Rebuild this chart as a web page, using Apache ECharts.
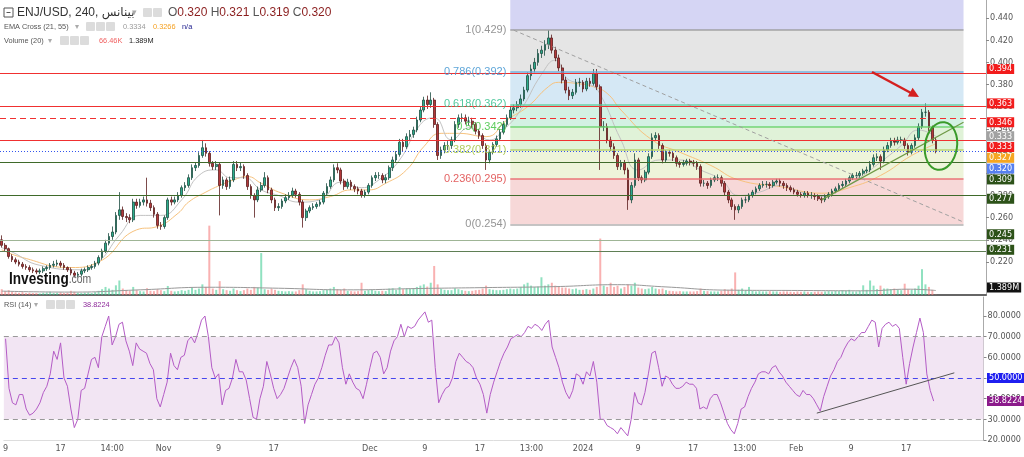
<!DOCTYPE html>
<html><head><meta charset="utf-8">
<script src="https://cdn.jsdelivr.net/npm/echarts@6/dist/echarts.min.js"></script>
<style>html,body{margin:0;padding:0;background:#fff}#c{width:1024px;height:457px}</style>
</head><body><div id="c"></div><script>
// ---------------- data (12h candles, ENJ/USD) ----------------
const firstOpen = 0.240;
const closes = [
.235,.232,.225,.222,.220,.218,.216,.215,.213,.212,
.211,.212,.214,.215,.217,.218,.219,.217,.215,.213,
.210,.208,.209,.212,.213,.215,.216,.219,.224,.230,
.237,.243,.247,.262,.267,.261,.260,.258,.274,.271,
.274,.276,.273,.269,.263,.253,.252,.260,.276,.274,
.276,.280,.287,.289,.296,.305,.307,.316,.323,.318,
.309,.306,.308,.289,.294,.288,.294,.308,.305,.306,
.298,.288,.280,.276,.285,.289,.296,.285,.276,.269,
.270,.275,.278,.280,.284,.281,.274,.260,.266,.269,
.270,.272,.274,.282,.288,.294,.305,.303,.293,.288,
.292,.288,.286,.284,.280,.283,.289,.296,.298,.298,
.294,.296,.305,.312,.317,.328,.324,.333,.335,.339,
.348,.357,.366,.362,.366,.344,.316,.321,.325,.325,
.330,.344,.350,.350,.347,.347,.344,.338,.334,.325,
.312,.319,.326,.331,.337,.344,.350,.357,.359,.362,
.367,.375,.388,.394,.400,.408,.411,.416,.422,.411,
.404,.395,.384,.375,.370,.373,.382,.382,.376,.383,
.381,.390,.378,.342,.342,.330,.324,.316,.306,.309,
.303,.276,.289,.312,.296,.294,.301,.315,.332,.334,
.325,.312,.319,.318,.314,.309,.308,.309,.311,.310,
.309,.306,.291,.291,.289,.294,.296,.296,.291,.283,
.276,.270,.267,.270,.276,.276,.280,.283,.286,.289,
.290,.290,.289,.292,.293,.291,.289,.287,.285,.283,
.281,.280,.282,.280,.280,.279,.277,.276,.279,.281,
.284,.286,.289,.290,.293,.296,.298,.298,.300,.302,
.303,.308,.314,.315,.311,.321,.325,.329,.328,.330,
.330,.325,.319,.325,.332,.342,.355,.355,.341,.330,
.320];
const lows = [
.233,.230,.223,.220,.218,.216,.214,.213,.211,.210,
.209,.209,.210,.212,.213,.215,.216,.215,.213,.211,
.208,.206,.206,.207,.210,.211,.213,.214,.217,.222,
.228,.235,.240,.245,.258,.258,.256,.255,.256,.268,
.269,.271,.270,.266,.260,.250,.249,.250,.258,.271,
.272,.274,.278,.284,.287,.294,.302,.305,.314,.315,
.306,.303,.303,.262,.286,.285,.286,.292,.302,.302,
.295,.285,.277,.260,.274,.283,.287,.282,.273,.266,
.266,.268,.273,.276,.278,.278,.271,.251,.257,.264,
.267,.268,.270,.272,.280,.286,.292,.300,.290,.285,
.286,.285,.283,.281,.278,.278,.281,.287,.293,.295,
.291,.291,.294,.302,.310,.315,.320,.322,.330,.332,
.337,.346,.355,.358,.359,.341,.312,.313,.318,.321,
.322,.328,.341,.346,.344,.343,.341,.335,.331,.322,
.303,.309,.317,.324,.329,.335,.342,.348,.354,.356,
.359,.365,.373,.384,.391,.397,.404,.406,.412,.408,
.401,.392,.381,.372,.366,.367,.371,.378,.373,.374,
.378,.379,.375,.303,.338,.327,.320,.313,.303,.303,
.299,.267,.273,.287,.293,.291,.292,.299,.313,.329,
.322,.309,.310,.315,.311,.306,.305,.306,.307,.307,
.306,.303,.288,.288,.286,.287,.292,.293,.288,.280,
.273,.267,.258,.264,.268,.273,.274,.278,.281,.284,
.287,.287,.286,.287,.290,.288,.286,.284,.283,.281,
.279,.278,.278,.278,.277,.276,.275,.273,.274,.277,
.279,.282,.284,.287,.288,.291,.294,.295,.296,.298,
.300,.301,.306,.311,.303,.309,.319,.323,.325,.326,
.327,.322,.316,.317,.323,.330,.340,.351,.338,.327,
.318];
const highs = [
.244,.237,.233,.227,.224,.222,.220,.218,.217,.215,
.214,.214,.216,.217,.219,.221,.222,.221,.219,.216,
.215,.212,.211,.214,.215,.217,.218,.221,.226,.232,
.240,.246,.252,.265,.283,.270,.264,.263,.277,.277,
.277,.279,.296,.276,.271,.265,.256,.262,.278,.279,
.279,.283,.289,.292,.299,.308,.310,.319,.330,.327,
.320,.311,.311,.310,.297,.296,.297,.311,.311,.310,
.308,.300,.290,.282,.288,.292,.301,.298,.287,.278,
.273,.277,.281,.283,.287,.286,.283,.276,.268,.271,
.273,.274,.276,.284,.291,.297,.308,.309,.305,.295,
.295,.294,.290,.288,.286,.285,.291,.298,.301,.301,
.300,.299,.307,.315,.320,.331,.331,.336,.339,.342,
.351,.360,.369,.370,.373,.368,.346,.324,.328,.329,
.333,.347,.353,.354,.353,.351,.350,.346,.340,.336,
.327,.321,.328,.334,.340,.347,.353,.360,.362,.365,
.371,.378,.391,.398,.404,.412,.415,.420,.429,.425,
.414,.407,.398,.387,.378,.376,.385,.386,.384,.386,
.386,.394,.394,.380,.347,.345,.333,.327,.318,.312,
.312,.305,.292,.318,.314,.298,.303,.318,.336,.337,
.336,.327,.321,.321,.320,.316,.311,.312,.313,.313,
.312,.311,.308,.294,.293,.296,.298,.299,.298,.293,
.285,.278,.272,.272,.278,.279,.282,.285,.288,.291,
.293,.293,.292,.294,.295,.295,.293,.291,.289,.287,
.285,.283,.284,.284,.283,.282,.281,.279,.281,.283,
.286,.288,.291,.293,.295,.298,.300,.301,.302,.304,
.306,.311,.317,.318,.317,.324,.328,.332,.332,.333,
.333,.332,.327,.327,.335,.345,.358,.363,.357,.343,
.332];
const volumes = [
1.8,1.2,1.5,1.0,0.8,0.7,0.9,0.6,0.7,0.6,
0.6,0.5,0.7,0.8,1.0,0.6,0.7,0.8,0.6,0.7,
1.3,1.0,0.7,0.6,0.7,0.8,0.6,0.9,1.3,1.8,
2.5,2.0,1.6,3.0,4.5,2.0,1.5,1.3,2.5,1.5,
1.2,1.1,2.1,1.3,1.2,1.8,1.5,1.2,2.8,1.3,
1.1,1.2,1.5,1.3,1.6,2.3,1.6,2.0,3.3,2.5,
21.5,2.0,1.6,4.3,1.8,1.5,1.3,2.0,1.5,1.2,
1.5,2.0,1.6,2.5,2.3,13.0,1.8,1.6,2.0,1.6,
1.3,1.2,1.1,1.2,1.1,1.1,1.5,3.3,1.8,1.3,
1.1,1.1,1.2,1.5,1.6,2.0,2.5,1.8,1.6,2.0,
1.3,1.2,1.1,1.2,3.8,1.3,1.5,1.6,1.3,1.2,
1.3,1.2,2.0,2.1,1.6,2.5,1.8,2.1,2.0,2.1,
2.5,2.9,3.3,2.6,3.8,9.0,3.3,2.0,1.6,1.5,
1.5,2.1,1.8,1.5,1.3,1.2,1.3,1.5,1.6,2.0,
2.9,1.8,1.6,1.5,1.5,1.6,1.8,2.0,1.8,2.0,
2.5,3.3,3.8,2.9,2.5,2.6,5.5,2.9,3.3,3.8,
2.9,2.5,2.3,2.3,2.0,1.8,2.0,1.6,1.6,1.8,
1.6,2.0,2.5,17.5,2.9,2.5,3.8,2.5,2.9,2.0,
2.5,3.3,2.9,3.8,2.3,2.0,1.8,2.0,2.5,2.0,
1.8,2.0,1.5,1.3,1.2,1.1,1.2,1.1,1.1,1.1,
1.1,1.2,2.0,1.3,1.2,1.1,1.1,1.1,1.3,1.8,
1.6,2.0,7.0,1.6,2.0,1.5,2.5,1.3,1.1,1.2,
1.1,1.1,1.2,1.1,1.1,1.0,1.1,1.1,1.0,0.9,
1.1,1.0,1.1,1.0,0.9,1.0,1.1,1.0,1.1,1.2,
1.1,1.3,1.2,1.5,1.3,1.6,1.1,1.1,1.3,3.0,
1.6,4.5,2.9,1.8,2.9,2.0,2.0,1.8,2.0,1.6,
1.5,3.5,1.8,1.6,2.0,2.9,8.0,3.3,2.5,1.6,
0.07];
const volMA = [[0,1.2],[20,0.9],[40,1.6],[60,2.4],[80,2.1],[100,1.6],[120,2.0],[140,2.3],[160,2.6],[178,3.2],[192,2.5],[210,1.5],[230,1.4],[250,1.3],[262,1.8],[270,1.389]];
const volMALast = 1.389;
const rsi = [
69,45,38,37,42,42,35,32,33,35,
38,43,46,52,63,59,67,50,46,35,
26,30,44,45,52,59,60,55,70,75,
80,66,70,76,77,68,63,56,67,64,
63,62,57,54,40,36,42,48,62,56,
54,60,61,68,70,67,72,78,80,70,
55,50,52,37,44,45,50,59,53,53,
49,40,31,30,40,46,58,52,45,40,
42,45,50,55,59,55,46,28,37,42,
47,50,55,61,66,66,70,67,55,47,
52,48,45,44,40,47,55,62,63,60,
52,55,63,68,70,76,70,75,74,75,
78,80,82,77,78,55,38,42,45,46,
50,58,62,60,58,57,55,50,47,42,
33,42,48,53,58,62,65,69,70,71,
70,72,75,74,76,75,73,76,78,65,
60,55,48,43,40,44,52,51,47,53,
51,58,48,30,30,27,26,25,23,26,
24,22,30,43,38,37,43,52,62,63,
55,46,51,50,47,45,45,46,48,47,
47,45,35,36,35,40,42,42,38,33,
28,25,23,28,35,36,41,45,48,52,
53,53,52,55,56,53,51,48,46,44,
42,41,44,42,42,40,37,34,41,46,
51,54,58,60,64,67,69,68,70,72,
72,75,78,77,65,74,76,77,75,76,
74,60,47,57,65,72,79,72,52,44,
38.8224];
const ema21 = [[0,0.233],[3,0.229],[11,0.217],[23,0.213],[28,0.220],[34,0.244],[40,0.262],[46,0.262],[52,0.276],[57,0.298],[62,0.303],[66,0.296],[70,0.296],[75,0.285],[80,0.280],[86,0.274],[92,0.276],[98,0.292],[104,0.287],[109,0.294],[115,0.312],[121,0.344],[125,0.350],[130,0.330],[135,0.341],[141,0.330],[145,0.339],[150,0.357],[156,0.389],[160,0.402],[164,0.384],[170,0.380],[173,0.371],[179,0.330],[184,0.303],[190,0.312],[196,0.312],[202,0.303],[208,0.294],[213,0.280],[219,0.283],[225,0.289],[231,0.283],[237,0.279],[242,0.285],[248,0.296],[254,0.310],[260,0.325],[265,0.339],[270,0.3334]];
const ema55 = [[0,0.231],[6,0.224],[20,0.215],[28,0.220],[39,0.249],[45,0.252],[51,0.264],[54,0.274],[59,0.283],[63,0.289],[67,0.294],[71,0.297],[75,0.291],[81,0.282],[89,0.276],[95,0.279],[101,0.285],[106,0.285],[111,0.291],[117,0.303],[122,0.324],[127,0.336],[132,0.336],[140,0.333],[146,0.348],[152,0.360],[158,0.378],[161,0.382],[166,0.381],[171,0.378],[175,0.372],[179,0.357],[188,0.330],[196,0.319],[205,0.307],[213,0.294],[225,0.288],[237,0.282],[245,0.287],[254,0.298],[263,0.316],[270,0.3266]];
const tickLabels = [[0,'9'],[16,'17'],[31,'14:00'],[46,'Nov'],[62,'9'],[78,'17'],[106,'Dec'],[122,'9'],[138,'17'],[153,'13:00'],[168,'2024'],[184,'9'],[200,'17'],[215,'13:00'],[230,'Feb'],[246,'9'],[262,'17']];
const totalSlots = 285;
const priceTicks = [0.22,0.24,0.26,0.28,0.30,0.32,0.34,0.36,0.38,0.40,0.42,0.44];
const rsiTicks = [20,30,40,50,60,70,80];
const levelValues = [0.394,0.363,0.346,0.333,0.309,0.277,0.245,0.231];
const fibHigh = 0.429, fibLow = 0.254;
const fibRange = [147, 278];
const fibRatios = [1,0.786,0.618,0.5,0.382,0.236,0];
const fibDiagonal = [[148,0.429],[278,0.256]];
const priceTrend = [[237,0.276],[278,0.346]];
const rsiTrend = [[236,33],[276,52.5]];
const rsiBands = [30,50,70];

// ---------------- styles / layout ----------------
const FONT = '"Liberation Sans Narrow","DejaVu Sans Condensed","Liberation Sans",Arial,sans-serif';
const LS = '"Liberation Sans",Arial,sans-serif';
const Y0MIN = 0.19023, Y0MAX = 0.45623;
const levelStyles = [
  {color:'#f03030',type:'solid'},{color:'#f03030',type:'solid'},{color:'#f03030',type:[6,4]},
  {color:'#f03030',type:'solid'},{color:'#3f6a2a',type:'solid'},{color:'#3f6a2a',type:'solid'},
  {color:'#9fb596',type:'solid'},{color:'#5f7f55',type:'solid'}];
const levelBoxColors = ['#f21c1c','#f21c1c','#f21c1c','#f21c1c','#2d5219','#2d5219','#2d5219','#2d5219'];
const fibZoneColors = ['#e5e5e5','#d5e8f5','#d3f1e3','#e0f2d8','#eef4da','#f7d8d8'];
const fibLineColors = ['#9a9a9a','#6aaad8','#5ccaa2','#66d066','#b4cf66','#e66a6a','#a8a8a8'];
const fibTextColors = ['#8a8a8a','#4b9bd4','#3fc393','#4ec84e','#a8c64a','#e05050','#8a8a8a'];

const chart = echarts.init(document.getElementById('c'));
const opens = closes.map((c,i)=> i===0 ? firstOpen : closes[i-1]);
const candleData = closes.map((c,i)=>[opens[i], c, lows[i], highs[i]]);
const cats = Array.from({length: totalSlots}, (_,i)=>String(i));
const tickMap = Object.fromEntries(tickLabels);
const fibPrice = r => fibLow + r*(fibHigh - fibLow);

const zones = [[{coord:[fibRange[0], fibHigh], itemStyle:{color:'#d5d5f4'}},{coord:[fibRange[1], Y0MAX]}]];
for (let i=0;i<fibRatios.length-1;i++){
  zones.push([{coord:[fibRange[0], fibPrice(fibRatios[i])], itemStyle:{color:fibZoneColors[i]}},{coord:[fibRange[1], fibPrice(fibRatios[i+1])]}]);
}
const fibLines = fibRatios.map((r,i)=>[
  {coord:[fibRange[0], fibPrice(r)], lineStyle:{color:fibLineColors[i], width:1.5, type:'solid', opacity:0.9},
   label:{show:true, position:'start', distance:4, formatter: r+'('+fibPrice(r).toFixed(3)+')', color:fibTextColors[i], fontSize:11, fontFamily:LS}},
  {coord:[fibRange[1], fibPrice(r)]}]);

const levelLines = levelValues.map((v,i)=>({yAxis:v, lineStyle:{color:levelStyles[i].color, type:levelStyles[i].type, width:1}}));
levelLines.push({yAxis: closes[closes.length-1], lineStyle:{color:'#3355ee', type:[1,2], width:1}});

const volData = volumes.map((v,i)=>({value:v, itemStyle:{color: closes[i]>=opens[i] ? 'rgba(70,205,150,0.6)' : 'rgba(245,125,125,0.6)'}}));

const option = {
  animation:false,
  backgroundColor:'#fff',
  grid:[
    {left:0,right:38,top:0,height:295},
    {left:0,right:38,top:220,height:75},
    {left:0,right:38,top:297,height:143}
  ],
  xAxis:[
    {type:'category',gridIndex:0,data:cats,boundaryGap:true,show:false},
    {type:'category',gridIndex:1,data:cats,boundaryGap:true,axisLine:{show:true,lineStyle:{color:'#666',width:2}},axisTick:{show:false},axisLabel:{show:false}},
    {type:'category',gridIndex:2,data:cats,boundaryGap:true,axisLine:{show:true,lineStyle:{color:'#ddd'}},axisTick:{show:false},
     axisLabel:{interval:(idx)=>tickMap[idx]!==undefined, formatter:(v,idx)=>tickMap[idx]||'', fontSize:9, color:'#555', margin:4, fontFamily:FONT}}
  ],
  yAxis:[
    {type:'value',gridIndex:0,position:'right',min:Y0MIN,max:Y0MAX,splitLine:{show:false},
     axisLine:{show:true,lineStyle:{color:'#aaa'}},
     axisTick:{show:true,length:3,lineStyle:{color:'#888'},customValues:priceTicks},
     axisLabel:{customValues:priceTicks,formatter:v=>v.toFixed(3),fontSize:9,color:'#555',margin:4,fontFamily:FONT}},
    {type:'value',gridIndex:1,min:0,max:23.25,show:false},
    {type:'value',gridIndex:2,position:'right',min:20,max:89.2,splitLine:{show:false},
     axisLine:{show:true,lineStyle:{color:'#aaa'}},
     axisTick:{show:true,length:3,lineStyle:{color:'#888'},customValues:rsiTicks},
     axisLabel:{customValues:rsiTicks,formatter:v=>v.toFixed(4),fontSize:9,color:'#555',margin:4,fontFamily:FONT}}
  ],
  series:[
    {type:'line',name:'fib',xAxisIndex:0,yAxisIndex:0,data:[],z:1,silent:true,
     markArea:{silent:true,data:zones},
     markLine:{silent:true,symbol:['none','none'],data:fibLines}},
    {type:'line',name:'levels',xAxisIndex:0,yAxisIndex:0,data:[],z:2,silent:true,
     markLine:{silent:true,symbol:['none','none'],label:{show:false},data:levelLines.concat([
       [{coord:fibDiagonal[0],lineStyle:{color:'#a0a0a0',type:[4,3],width:1}},{coord:fibDiagonal[1]}],
       [{coord:priceTrend[0],lineStyle:{color:'#6f9a46',type:'solid',width:1.2}},{coord:priceTrend[1]}]
     ])}},
    {type:'bar',name:'vol',xAxisIndex:1,yAxisIndex:1,data:volData,barWidth:2,z:1,silent:true},
    {type:'line',name:'volMA',xAxisIndex:1,yAxisIndex:1,data:volMA,smooth:true,symbol:'none',lineStyle:{color:'#999',width:1},z:2,silent:true},
    {type:'line',name:'ema55',xAxisIndex:0,yAxisIndex:0,data:ema55,smooth:true,symbol:'none',lineStyle:{color:'#f7c27d',width:1},z:2,silent:true},
    {type:'line',name:'ema21',xAxisIndex:0,yAxisIndex:0,data:ema21,smooth:true,symbol:'none',lineStyle:{color:'#c2c2c2',width:1},z:2,silent:true},
    {type:'candlestick',name:'ENJ',xAxisIndex:0,yAxisIndex:0,data:candleData,barWidth:'62%',z:3,silent:true,
     itemStyle:{color:'#2aae8c',color0:'#b3383a',borderColor:'#1d4d41',borderColor0:'#5a1d1d',borderWidth:0.8}},
    {type:'line',name:'rsiBand',xAxisIndex:2,yAxisIndex:2,data:[],z:1,silent:true,
     markArea:{silent:true,itemStyle:{color:'#f2e5f3'},data:[[{yAxis:rsiBands[0]},{yAxis:rsiBands[2]}]]},
     markLine:{silent:true,symbol:['none','none'],label:{show:false},data:[
       {yAxis:rsiBands[2],lineStyle:{color:'#999',type:[5,4],width:1}},
       {yAxis:rsiBands[0],lineStyle:{color:'#999',type:[5,4],width:1}},
       {yAxis:rsiBands[1],lineStyle:{color:'#4646ee',type:[5,4],width:1}},
       [{coord:rsiTrend[0],lineStyle:{color:'#555',type:'solid',width:1}},{coord:rsiTrend[1]}]
     ]}},
    {type:'line',name:'rsi',xAxisIndex:2,yAxisIndex:2,data:rsi,symbol:'none',lineStyle:{color:'#b45cc6',width:1},z:3,silent:true}
  ]
};
chart.setOption(option);

// ------------- right-side value boxes, legend, annotations -------------
const g = [];
function box(y, text, bg){
  g.push({type:'text', x:987, y:y, z:200, style:{text:text, fill:'#fff', backgroundColor:bg, padding:[1,2,0,2],
    font:'9px '+FONT, verticalAlign:'middle', align:'left'}});
}
const priceBoxes = levelValues.map((v,i)=>({v:v, t:v.toFixed(3), bg:levelBoxColors[i]}));
priceBoxes.push({v:ema21[ema21.length-1][1], t:ema21[ema21.length-1][1].toFixed(3), bg:'#a2a2a2'});
priceBoxes.push({v:ema55[ema55.length-1][1], t:ema55[ema55.length-1][1].toFixed(3), bg:'#f5a623'});
priceBoxes.push({v:closes[closes.length-1], t:closes[closes.length-1].toFixed(3), bg:'#5680f0'});
priceBoxes.forEach(b=>{b.y = chart.convertToPixel({yAxisIndex:0}, b.v);});
priceBoxes.sort((a,b)=>a.y-b.y);
let prev = -100;
priceBoxes.forEach(b=>{ const y = Math.max(b.y, prev+10.8); prev = y; box(y, b.t, b.bg); });
box(Math.min(chart.convertToPixel({yAxisIndex:1}, volMALast), 287.5), volMALast.toFixed(3)+'M', '#111');
box(chart.convertToPixel({yAxisIndex:2}, rsiBands[1]), rsiBands[1].toFixed(4), '#1f1ff0');
box(chart.convertToPixel({yAxisIndex:2}, rsi[rsi.length-1]), rsi[rsi.length-1].toFixed(4), '#8b1a8b');

function txt(x,y,text,fill,font,sx){ g.push({type:'text',x:x,y:y,z:200,scaleX:sx||1,style:{text:text,fill:fill,font:font,verticalAlign:'middle',align:'left'}}); }
function icon(x,y){ g.push({type:'rect',z:200,shape:{x:x,y:y,width:9,height:9,r:1},style:{fill:'#dcdcdc'}}); }
const small = '8px '+LS;
// line 1
g.push({type:'rect',z:200,shape:{x:4,y:8,width:9,height:9},style:{fill:'#fff',stroke:'#555',lineWidth:1}});
g.push({type:'line',z:200,shape:{x1:6.5,y1:12.5,x2:10.5,y2:12.5},style:{stroke:'#555',lineWidth:1}});
txt(17,13,'ENJ/USD, 240, بينانس','#333','12px "Liberation Sans","DejaVu Sans",Arial');
txt(132,13,'▾','#aaa','9px "DejaVu Sans"');
icon(143,8); icon(153,8);
g.push({type:'text',x:168,y:13,z:200,style:{text:'{l|O}{v|0.320} {l|H}{v|0.321} {l|L}{v|0.319} {l|C}{v|0.320}',
  font:'12px '+LS,verticalAlign:'middle',
  rich:{l:{fill:'#555',font:'12px '+LS},v:{fill:'#8b1e1e',font:'12px '+LS}}}});
// line 2
txt(4,27,'EMA Cross (21, 55)','#555',small,0.92);
txt(75,27,'▾','#aaa','8px "DejaVu Sans"');
icon(86,22); icon(96,22); icon(106,22);
txt(123,27,'0.3334','#9a9a9a',small,0.92);
txt(153,27,'0.3266','#f5a020',small,0.92);
txt(182,27,'n/a','#1a1a8c',small,0.92);
// line 3
txt(4,41,'Volume (20)','#555',small,0.92);
txt(48,41,'▾','#aaa','8px "DejaVu Sans"');
icon(60,36); icon(70,36); icon(80,36);
txt(99,41,'66.46K','#f06060',small,0.92);
txt(129,41,'1.389M','#222',small,0.92);
// RSI legend
txt(4,305,'RSI (14)','#555',small,0.92);
txt(34,305,'▾','#aaa','8px "DejaVu Sans"');
icon(46,300); icon(56,300); icon(66,300);
txt(83,305,'38.8224','#8e2b9a',small,0.92);
// logo
g.push({type:'text',x:9,y:279,z:200,scaleX:0.8,style:{text:'{a|Investing}{b|.com}',verticalAlign:'middle',
  rich:{a:{fill:'#111',font:'bold 17px '+LS},b:{fill:'#666',font:'13px '+LS}}}});
// annotations
g.push({type:'line',z:200,shape:{x1:872,y1:72,x2:911,y2:93},style:{stroke:'#d42020',lineWidth:2.5}});
g.push({type:'polygon',z:200,shape:{points:[[919,97],[907.8,96.6],[912.6,87.8]]},style:{fill:'#d42020'}});
g.push({type:'ellipse',z:200,x:941,y:146,rotation:-0.15,shape:{cx:0,cy:0,rx:16,ry:24},style:{fill:'none',stroke:'#3a9a2a',lineWidth:2}});
chart.setOption({graphic:g});
</script></body></html>
